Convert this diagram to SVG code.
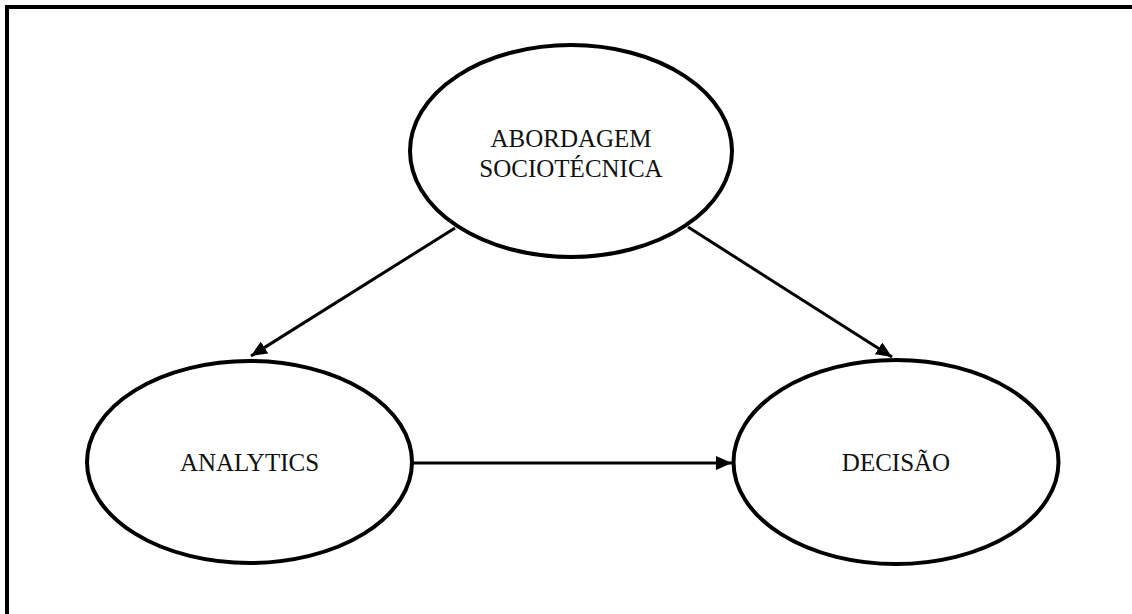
<svg xmlns="http://www.w3.org/2000/svg" width="1132" height="614" viewBox="0 0 1132 614">
  <style>
    .node ellipse { fill: #ffffff; stroke: #000000; stroke-width: 4; }
    .node text { font-family: "Liberation Serif", "Times New Roman", serif; font-size: 25px; fill: #111111; text-anchor: middle; }
    .edge { stroke: #000000; stroke-width: 3; fill: none; marker-end: url(#arrow); }
    .frame { stroke: #000000; stroke-width: 4; fill: none; }
  </style>
  <defs>
    <marker id="arrow" markerUnits="userSpaceOnUse" markerWidth="18" markerHeight="14" refX="16" refY="7" orient="auto">
      <path d="M0,0 L16,7 L0,14 Z" fill="#000000"/>
    </marker>
  </defs>
  <rect width="1132" height="614" fill="#ffffff"/>
  <!-- open frame: top and left edges only -->
  <path class="frame" d="M7,614 L7,7 L1132,7"/>

  <g id="connectors">
    <line class="edge" x1="455" y1="228" x2="251" y2="356"/>
    <line class="edge" x1="688" y1="227" x2="892" y2="357"/>
    <line class="edge" x1="412" y1="463" x2="732" y2="463"/>
  </g>

  <g id="node-abordagem" class="node">
    <ellipse cx="571" cy="151" rx="161" ry="106"/>
    <text x="571" y="147">ABORDAGEM</text>
    <text x="571" y="177">SOCIOTÉCNICA</text>
  </g>

  <g id="node-analytics" class="node">
    <ellipse cx="249.5" cy="462" rx="162.5" ry="101"/>
    <text x="249.5" y="471">ANALYTICS</text>
  </g>

  <g id="node-decisao" class="node">
    <ellipse cx="896" cy="462" rx="162.5" ry="102"/>
    <text x="896" y="471">DECISÃO</text>
  </g>
</svg>
